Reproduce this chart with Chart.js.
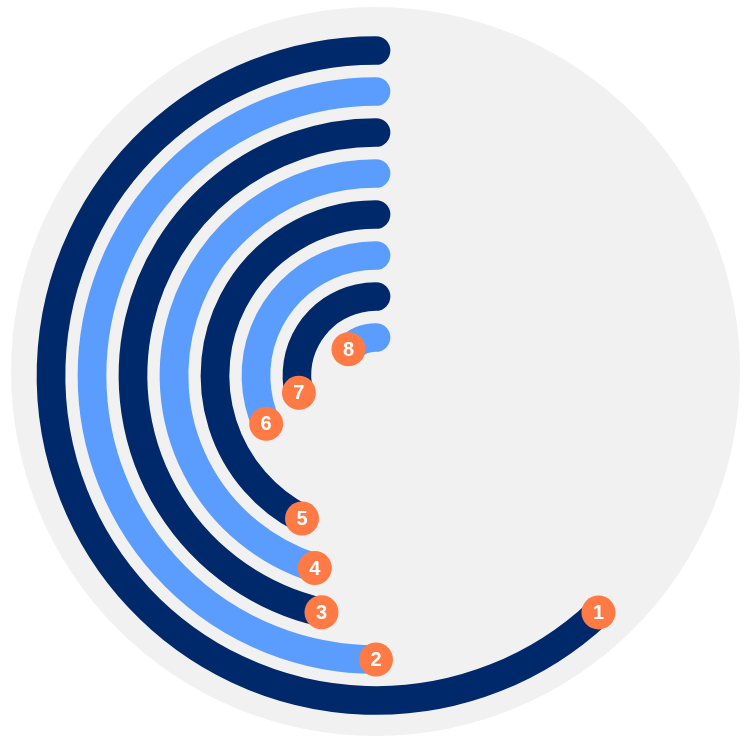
<!DOCTYPE html>
<html lang="en">
<head>
    <meta charset="UTF-8">
    <title>Radial ranking</title>
    <style>
        html, body {
            margin: 0;
            padding: 0;
            background: #ffffff;
        }
        canvas {
            display: block;
        }
    </style>
</head>
<body>
    <canvas id="myChart" width="752" height="738"></canvas>

    <script src="https://cdn.jsdelivr.net/npm/chart.js"></script>
    <script>
        // ranks shown in the badges, outermost ring first
        var rankLabels = ['1', '2', '3', '4', '5', '6', '7', '8'];
        // share of a full turn covered by each ring (%)
        var ringValues = [62, 50, 46.4, 45.1, 42.4, 31.6, 28.5, 12.9];

        var darkBlue = '#00296b';
        var lightBlue = '#5b9dfe';
        var badgeColor = '#ff7a45';
        var discColor = '#f1f1f1';

        var datasets = ringValues.map(function (v, i) {
            return {
                label: rankLabels[i],
                // first slice is the empty part, second one is the ring itself
                data: [100 - v, v],
                ringColor: i % 2 === 0 ? darkBlue : lightBlue,
                backgroundColor: 'transparent',
                borderWidth: 0
            };
        });

        // grey disc behind everything
        var discPlugin = {
            id: 'disc',
            beforeDatasetsDraw: function (chart) {
                var ctrl = chart.getDatasetMeta(0).controller;
                var arc = chart.getDatasetMeta(0).data[0];
                var ctx = chart.ctx;
                ctx.save();
                ctx.fillStyle = discColor;
                ctx.beginPath();
                ctx.arc(arc.x - 0.5, arc.y - 4, ctrl.outerRadius + 19, 0, Math.PI * 2);
                ctx.fill();
                ctx.restore();
            }
        };

        // stroke each ring with round caps and put the rank badge at its far end
        var ringPlugin = {
            id: 'rings',
            afterDatasetsDraw: function (chart) {
                var ctx = chart.ctx;
                chart.data.datasets.forEach(function (ds, i) {
                    var el = chart.getDatasetMeta(i).data[1];
                    var p = el.getProps(['x', 'y', 'startAngle', 'endAngle', 'innerRadius', 'outerRadius'], true);
                    var r = (p.innerRadius + p.outerRadius) / 2;
                    var band = p.outerRadius - p.innerRadius;

                    ctx.save();
                    ctx.strokeStyle = ds.ringColor;
                    ctx.lineWidth = band * 0.7;
                    ctx.lineCap = 'round';
                    ctx.beginPath();
                    ctx.arc(p.x, p.y, r, p.startAngle, p.endAngle);
                    ctx.stroke();
                    ctx.restore();
                });

                chart.data.datasets.forEach(function (ds, i) {
                    var el = chart.getDatasetMeta(i).data[1];
                    var p = el.getProps(['x', 'y', 'startAngle', 'innerRadius', 'outerRadius'], true);
                    var r = (p.innerRadius + p.outerRadius) / 2;
                    var bx = p.x + r * Math.cos(p.startAngle);
                    var by = p.y + r * Math.sin(p.startAngle);

                    ctx.save();
                    ctx.fillStyle = badgeColor;
                    ctx.beginPath();
                    ctx.arc(bx, by, 17, 0, Math.PI * 2);
                    ctx.fill();
                    ctx.fillStyle = '#ffffff';
                    ctx.font = 'bold 20px "Liberation Sans", Arial, sans-serif';
                    ctx.textAlign = 'center';
                    ctx.textBaseline = 'middle';
                    ctx.fillText(ds.label, bx, by + 1);
                    ctx.restore();
                });
            }
        };

        var ctx = document.getElementById('myChart').getContext('2d');
        var myChart = new Chart(ctx, {
            type: 'doughnut',
            data: {
                labels: ['rest', 'value'],
                datasets: datasets
            },
            options: {
                responsive: false,
                animation: false,
                cutout: '5.07%',
                layout: {
                    padding: { top: 30, bottom: 17, left: 0, right: 0 }
                },
                events: [],
                plugins: {
                    legend: { display: false },
                    tooltip: { enabled: false }
                }
            },
            plugins: [discPlugin, ringPlugin]
        });
    </script>
</body>
</html>
